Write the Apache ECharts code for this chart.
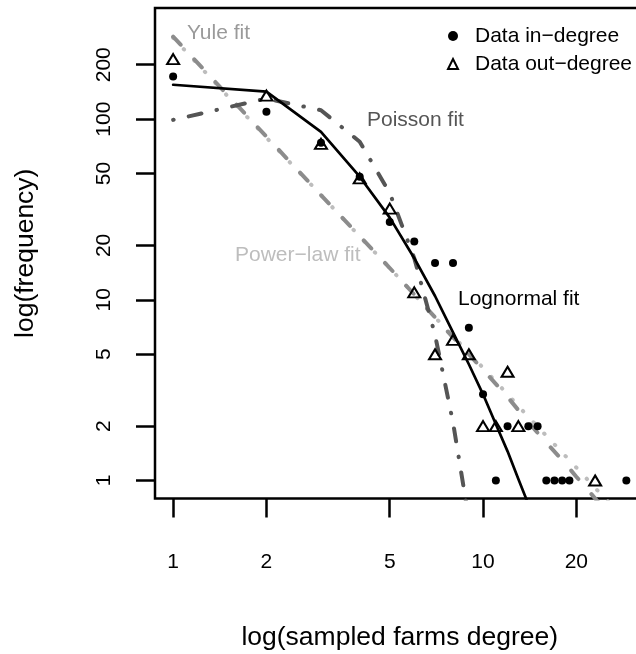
<!DOCTYPE html>
<html>
<head>
<meta charset="utf-8">
<script src="https://cdn.jsdelivr.net/npm/echarts@6/dist/echarts.min.js"></script>
<style>
html,body{margin:0;padding:0;background:#fff;}
#chart{width:636px;height:654px;}
</style>
</head>
<body>
<div id="chart"></div>
<script>
// ---- data (raw values) ----
const inDegreeX = [1, 2, 3, 4, 5, 6, 7, 8, 9, 10, 11, 12, 14, 15, 16, 17, 18, 19, 29];
const inDegreeY = [172, 110, 74, 48, 27, 21, 16, 16, 7, 3, 1, 2, 2, 2, 1, 1, 1, 1, 1];
const outDegreeX = [1, 2, 3, 4, 5, 6, 7, 8, 9, 10, 11, 12, 13, 23];
const outDegreeY = [215, 135, 73, 47, 32, 11, 5, 6, 5, 2, 2, 4, 2, 1];

const lognormalX = [1, 2, 3, 4, 5, 6, 7, 8, 9, 10, 11, 12, 13, 14];
const lognormalY = [155, 142, 85, 48, 28.5, 17, 10.5, 6.6, 4.4, 3.0, 2.05, 1.45, 1.02, 0.74];
const poissonX = [1, 2, 3, 4, 5, 6, 7, 8, 9];
const poissonY = [99, 130, 112, 75, 39, 17, 6.4, 2.1, 0.61];
const powerLawX = [1, 2, 3, 4, 5, 6, 7, 8, 9, 10, 12, 14, 16, 18, 20, 22, 24, 26, 28];
const powerLawY = [282, 79, 38, 22.4, 15, 10.7, 8.0, 6.3, 5.1, 4.2, 3.0, 2.25, 1.77, 1.43, 1.18, 0.99, 0.84, 0.73, 0.64];
const yuleX = [1, 2, 3, 4, 5, 6, 7, 8, 9, 10, 12, 14, 16, 18, 20, 22, 24, 26, 28];
const yuleY = [286, 80, 38, 22.5, 15, 10.7, 8.0, 6.2, 5.0, 4.1, 2.9, 2.1, 1.62, 1.3, 1.05, 0.87, 0.73, 0.62, 0.53];

const xTickValues = [1, 2, 5, 10, 20];
const yTickValues = [1, 2, 5, 10, 20, 50, 100, 200];

const seriesNames = ['Data in\u2212degree', 'Data out\u2212degree'];
const fitLabels = ['Yule fit', 'Poisson fit', 'Power\u2212law fit', 'Lognormal fit'];

// ---- helpers ----
const lg = v => Math.log10(v);
const pairs = (xs, ys) => xs.map((x, i) => [lg(x), lg(ys[i])]);
const fmt = v => String(Math.round(Math.pow(10, v)));

const FONT = '"Liberation Sans", Arial, Helvetica, sans-serif';
const chart = echarts.init(document.getElementById('chart'), null, {renderer: 'canvas'});

const option = {
  backgroundColor: '#ffffff',
  animation: false,
  grid: {
    left: 155, top: 8, right: -8.5, bottom: 155.5,
    containLabel: false,
    outerBoundsMode: 'none',
    show: true, borderColor: '#000', borderWidth: 2.5, backgroundColor: 'transparent'
  },
  xAxis: {
    type: 'value',
    min: -0.0585, max: 1.521,
    name: 'log(sampled farms degree)',
    nameLocation: 'middle',
    nameGap: 126,
    nameTextStyle: {fontFamily: FONT, fontSize: 26.5, color: '#000'},
    axisLine: {show: false, onZero: false},
    splitLine: {show: false},
    axisTick: {show: true, inside: false, length: 19, lineStyle: {color: '#000', width: 2.5},
               customValues: xTickValues.map(lg)},
    axisLabel: {show: true, margin: 53, fontFamily: FONT, fontSize: 21, color: '#000',
                customValues: xTickValues.map(lg), formatter: fmt}
  },
  yAxis: {
    type: 'value',
    min: -0.0995, max: 2.615,
    name: 'log(frequency)',
    nameLocation: 'middle',
    nameGap: 116,
    nameTextStyle: {fontFamily: FONT, fontSize: 26.5, color: '#000'},
    axisLine: {show: false, onZero: false},
    splitLine: {show: false},
    axisTick: {show: true, inside: false, length: 19, lineStyle: {color: '#000', width: 2.5},
               customValues: yTickValues.map(lg)},
    axisLabel: {show: true, rotate: 90, margin: 40, fontFamily: FONT, fontSize: 21, color: '#000',
                customValues: yTickValues.map(lg), formatter: fmt}
  },
  legend: {
    data: seriesNames,
    orient: 'vertical',
    left: 442, top: 19,
    itemWidth: 10, itemHeight: 10,
    itemGap: 4,
    textStyle: {fontFamily: FONT, fontSize: 21, color: '#000', lineHeight: 24, padding: [0, 0, 0, 12]},
    selectedMode: false
  },
  graphic: [
    {type: 'text', x: 187, y: 33, style: {text: fitLabels[0], fill: '#9a9a9a', font: '21px ' + FONT, align: 'left', verticalAlign: 'middle'}},
    {type: 'text', x: 367, y: 120, style: {text: fitLabels[1], fill: '#555555', font: '21px ' + FONT, align: 'left', verticalAlign: 'middle'}},
    {type: 'text', x: 235, y: 255, style: {text: fitLabels[2], fill: '#bdbdbd', font: '21px ' + FONT, align: 'left', verticalAlign: 'middle'}},
    {type: 'text', x: 458, y: 299, style: {text: fitLabels[3], fill: '#000000', font: '21px ' + FONT, align: 'left', verticalAlign: 'middle'}}
  ],
  series: [
    {
      name: 'Power-law fit', type: 'line', data: pairs(powerLawX, powerLawY),
      showSymbol: false, symbol: 'none', clip: true, z: 2,
      lineStyle: {color: '#bdbdbd', width: 4, type: [0.5, 15], cap: 'round'}
    },
    {
      name: 'Yule fit', type: 'line', data: pairs(yuleX, yuleY),
      showSymbol: false, symbol: 'none', clip: true, z: 3,
      lineStyle: {color: '#8c8c8c', width: 4, type: [11, 20], cap: 'round'}
    },
    {
      name: 'Poisson fit', type: 'line', data: pairs(poissonX, poissonY),
      showSymbol: false, symbol: 'none', clip: true, z: 3,
      lineStyle: {color: '#555555', width: 4, type: [0.5, 15.5, 13, 15.5], cap: 'round'}
    },
    {
      name: 'Lognormal fit', type: 'line', data: pairs(lognormalX, lognormalY),
      showSymbol: false, symbol: 'none', clip: true, z: 4,
      lineStyle: {color: '#000000', width: 2.7, type: 'solid', cap: 'round', join: 'round'}
    },
    {
      name: seriesNames[0], type: 'scatter', data: pairs(inDegreeX, inDegreeY),
      symbol: 'circle', symbolSize: 8, z: 5,
      itemStyle: {color: '#000000', opacity: 1}
    },
    {
      name: seriesNames[1], type: 'scatter', data: pairs(outDegreeX, outDegreeY),
      symbol: 'triangle', symbolSize: [12, 10], z: 6,
      itemStyle: {color: 'rgba(255,255,255,0)', borderColor: '#000000', borderWidth: 2, opacity: 1}
    }
  ]
};
chart.setOption(option);
</script>
</body>
</html>
